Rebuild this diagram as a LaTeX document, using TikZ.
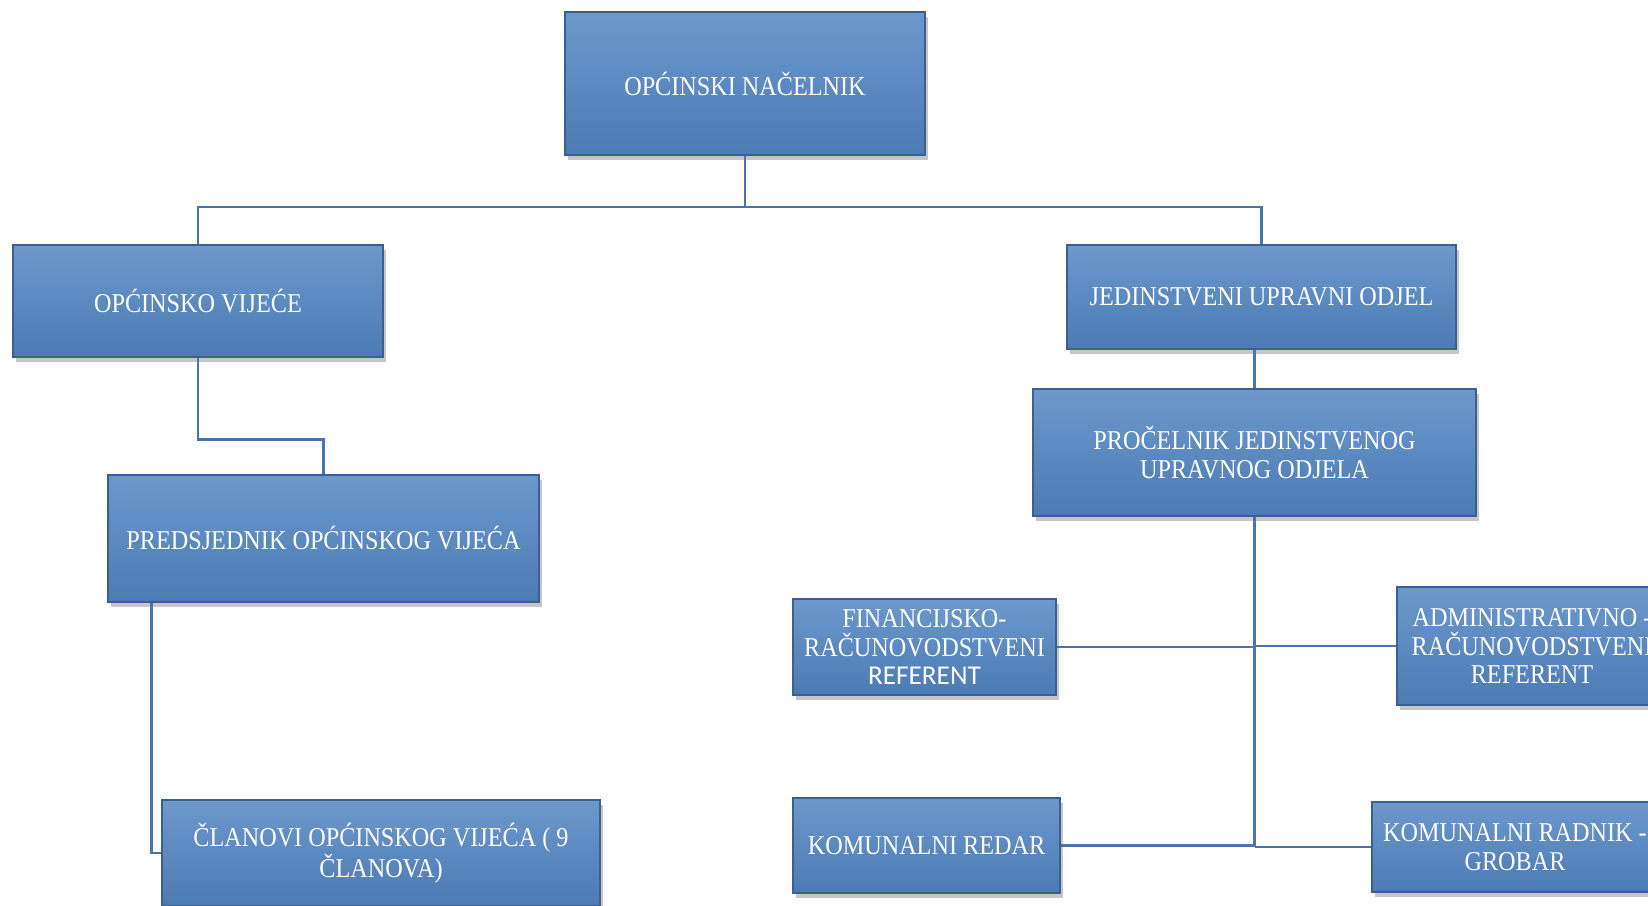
\documentclass[tikz,border=0pt]{standalone}
\usepackage{fontspec}
\setmainfont{Liberation Serif}[FakeStretch=0.89]
\newfontfamily\calfont{Carlito}
\usetikzlibrary{shadows}
\definecolor{boxtop}{RGB}{108,152,204}
\definecolor{boxbot}{RGB}{76,122,179}
\definecolor{boxline}{RGB}{60,95,145}
\definecolor{linkblue}{RGB}{74,117,172}

\begin{document}
\begin{tikzpicture}[x=0.5pt, y=-0.5pt]
  \tikzstyle{box}=[draw=boxline, line width=0.6pt, top color=boxtop, bottom color=boxbot, text=white, align=center, inner sep=2pt, font=\fontsize{13.6}{14.2}\selectfont, drop shadow={shadow xshift=1.5pt, shadow yshift=-2.5pt, opacity=0.45}]
  \tikzstyle{link}=[draw=linkblue, line width=1.2pt]

  \clip (0, 0) rectangle (1648, 905);

  \node[box, minimum width=180pt, minimum height=71.5pt] (nac) at (745, 83.5) {OPĆINSKI NAČELNIK};
  \node[box, minimum width=185pt, minimum height=56pt] (vij) at (198, 301) {OPĆINSKO VIJEĆE};
  \node[box, minimum width=194.5pt, minimum height=52pt] (jed) at (1261.5, 297) {JEDINSTVENI UPRAVNI ODJEL};
  \node[box, minimum width=215.5pt, minimum height=63.5pt] (pred) at (323.5, 538.5) {PREDSJEDNIK OPĆINSKOG VIJEĆA};
  \node[box, minimum width=221.5pt, minimum height=63.5pt] (pro) at (1254.5, 452.5) {PROČELNIK JEDINSTVENOG\\UPRAVNOG ODJELA};
  \node[box, minimum width=219pt, minimum height=53pt] (cla) at (381, 853) {ČLANOVI OPĆINSKOG VIJEĆA ( 9\\ČLANOVA)};

  \node[box, minimum width=131.5pt, minimum height=48pt] (fin) at (924.5, 647) {FINANCIJSKO-\\RAČUNOVODSTVENI\\{\calfont REFERENT}};
  \node[box, minimum width=133.5pt, minimum height=47.5pt] (red) at (926.5, 845.5) {KOMUNALNI REDAR};
  \node[box, minimum width=135pt, minimum height=59pt] (adm) at (1532, 646) {ADMINISTRATIVNO -\\RAČUNOVODSTVENI\\REFERENT};
  \node[box, minimum width=143pt, minimum height=45pt] (grob) at (1515, 847) {KOMUNALNI RADNIK -\\GROBAR};

  % veze
  \coordinate (split) at (745, 207);
  \draw[link] (nac.south) -- (split) -| (vij.north);
  \draw[link] (split) -| (jed.north);
  \draw[link] (vij.south) -- ++(0, 82) -| (pred.north);
  \draw[link] ([xshift=22pt]pred.south west) |- (cla.west);
  \draw[link] (jed.south -| pro.north) -- (pro.north);

  \draw[link] (pro.south) -- (pro.south |- grob.west);
  \draw[link] (fin.east) -- (fin.east -| pro.south);
  \draw[link] (adm.west) -- (adm.west -| pro.south);
  \draw[link] (red.east) -- (red.east -| pro.south);
  \draw[link] (grob.west) -- (grob.west -| pro.south);
\end{tikzpicture}
\end{document}
